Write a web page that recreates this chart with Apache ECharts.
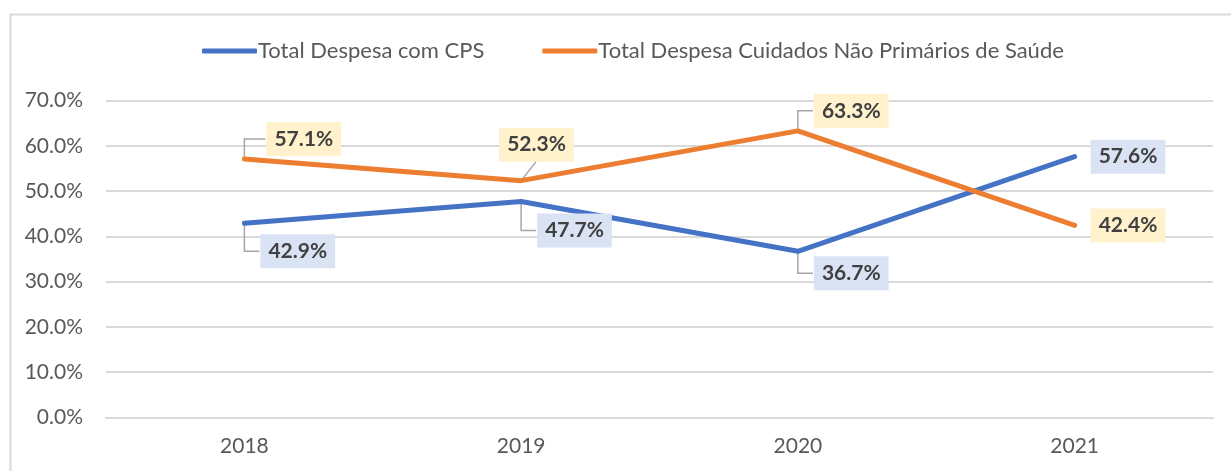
<!DOCTYPE html>
<html>
<head>
<meta charset="utf-8">
<script src="https://cdn.jsdelivr.net/npm/echarts@6/dist/echarts.min.js"></script>
<style>
  html, body { margin: 0; padding: 0; background: #fff; }
  #main { width: 1231px; height: 471px; }
</style>
</head>
<body>
<div id="main"></div>
<script>
var years = ['2018', '2019', '2020', '2021'];
var cpsName = 'Total Despesa com CPS';
var cpsValues = [42.9, 47.7, 36.7, 57.6];
var naoName = 'Total Despesa Cuidados Não Primários de Saúde';
var naoValues = [57.1, 52.3, 63.3, 42.4];

// label shifts (px) from the default 'right' position, per series / point,
// and the leader style drawn to it ('elbow', 'straight' or none)
var shifts = [
  [[0, 28, 'elbow'], [0, 29, 'elbow'], [0, 22, 'elbow'], [0, 0, '']],
  [[6, -20, 'elbow'], [-38, -36, 'straight'], [0, -20, 'elbow'], [0, 0, '']]
];

window.onload = function() {
  var font = 'Lato';
  var labelDist = 15;

  function labelStyle(bg) {
    return {
      show: true,
      position: 'right',
      distance: labelDist,
      formatter: function(p) { return p.value.toFixed(1) + '%'; },
      color: '#404040',
      fontWeight: 'bold',
      fontSize: 21,
      fontFamily: font,
      backgroundColor: bg,
      padding: [7, 8, 6, 8]
    };
  }

  function layoutFor(s) {
    return function(params) {
      var d = shifts[s][params.dataIndex];
      return { dx: d[0], dy: d[1] };
    };
  }

  // leader lines from each point to its moved label
  function leaders(s, values) {
    return {
      type: 'custom',
      data: values.map(function(v, i) { return [i, v]; }),
      encode: { x: 0, y: 1 },
      silent: true,
      z: 3,
      renderItem: function(params, api) {
        var i = params.dataIndex;
        var d = shifts[s][i];
        if (!d[2]) return null;
        var p = api.coord([api.value(0), api.value(1)]);
        var lx = p[0] + labelDist + d[0];
        var cy = p[1] + d[1];
        var pts;
        if (d[2] === 'elbow') {
          pts = [p, [p[0], cy], [lx, cy]];
        } else {
          pts = [p, [lx + 38, cy + 17]];
        }
        return {
          type: 'polyline',
          shape: { points: pts },
          style: { stroke: '#A6A6A6', lineWidth: 1.5, fill: null }
        };
      }
    };
  }

  var option = {
    backgroundColor: '#FFFFFF',
    animation: false,
    graphic: [{
      type: 'rect',
      left: 8,
      top: 12,
      shape: { width: 1300, height: 500 },
      style: { fill: 'none', stroke: '#D9D9D9', lineWidth: 2 },
      z: -1
    }],
    legend: {
      top: 35,
      left: 197,
      itemWidth: 55,
      itemHeight: 5,
      itemGap: 58,
      icon: 'roundRect',
      textStyle: { color: '#595959', fontSize: 22, fontFamily: font, padding: [0, 0, 0, -4] },
      data: [cpsName, naoName]
    },
    grid: { left: 106, right: 18, top: 100.5, bottom: 53.5 },
    xAxis: {
      type: 'category',
      data: years,
      boundaryGap: true,
      axisLine: { show: true, lineStyle: { color: '#D9D9D9', width: 2 } },
      axisTick: { show: false },
      axisLabel: { color: '#595959', fontSize: 21, fontFamily: font, margin: 18 }
    },
    yAxis: {
      type: 'value',
      min: 0,
      max: 70,
      interval: 10,
      axisLine: { show: false },
      axisTick: { show: false },
      splitLine: { lineStyle: { color: '#D9D9D9', width: 2 } },
      axisLabel: {
        color: '#595959', fontSize: 21, fontFamily: font, margin: 23,
        formatter: function(v) { return v.toFixed(1) + '%'; }
      }
    },
    series: [{
        name: cpsName,
        type: 'line',
        data: cpsValues,
        symbol: 'circle',
        symbolSize: 2,
        lineStyle: { color: '#4472C4', width: 5, cap: 'round' },
        itemStyle: { color: '#4472C4' },
        label: labelStyle('#DAE3F3'),
        labelLayout: layoutFor(0)
      },
      {
        name: naoName,
        type: 'line',
        data: naoValues,
        symbol: 'circle',
        symbolSize: 2,
        lineStyle: { color: '#ED7D31', width: 5, cap: 'round' },
        itemStyle: { color: '#ED7D31' },
        label: labelStyle('#FFF2CC'),
        labelLayout: layoutFor(1)
      },
      leaders(0, cpsValues),
      leaders(1, naoValues)
    ]
  };
  var chart = echarts.init(document.getElementById('main'));
  chart.setOption(option);
};
</script>
</body>
</html>
